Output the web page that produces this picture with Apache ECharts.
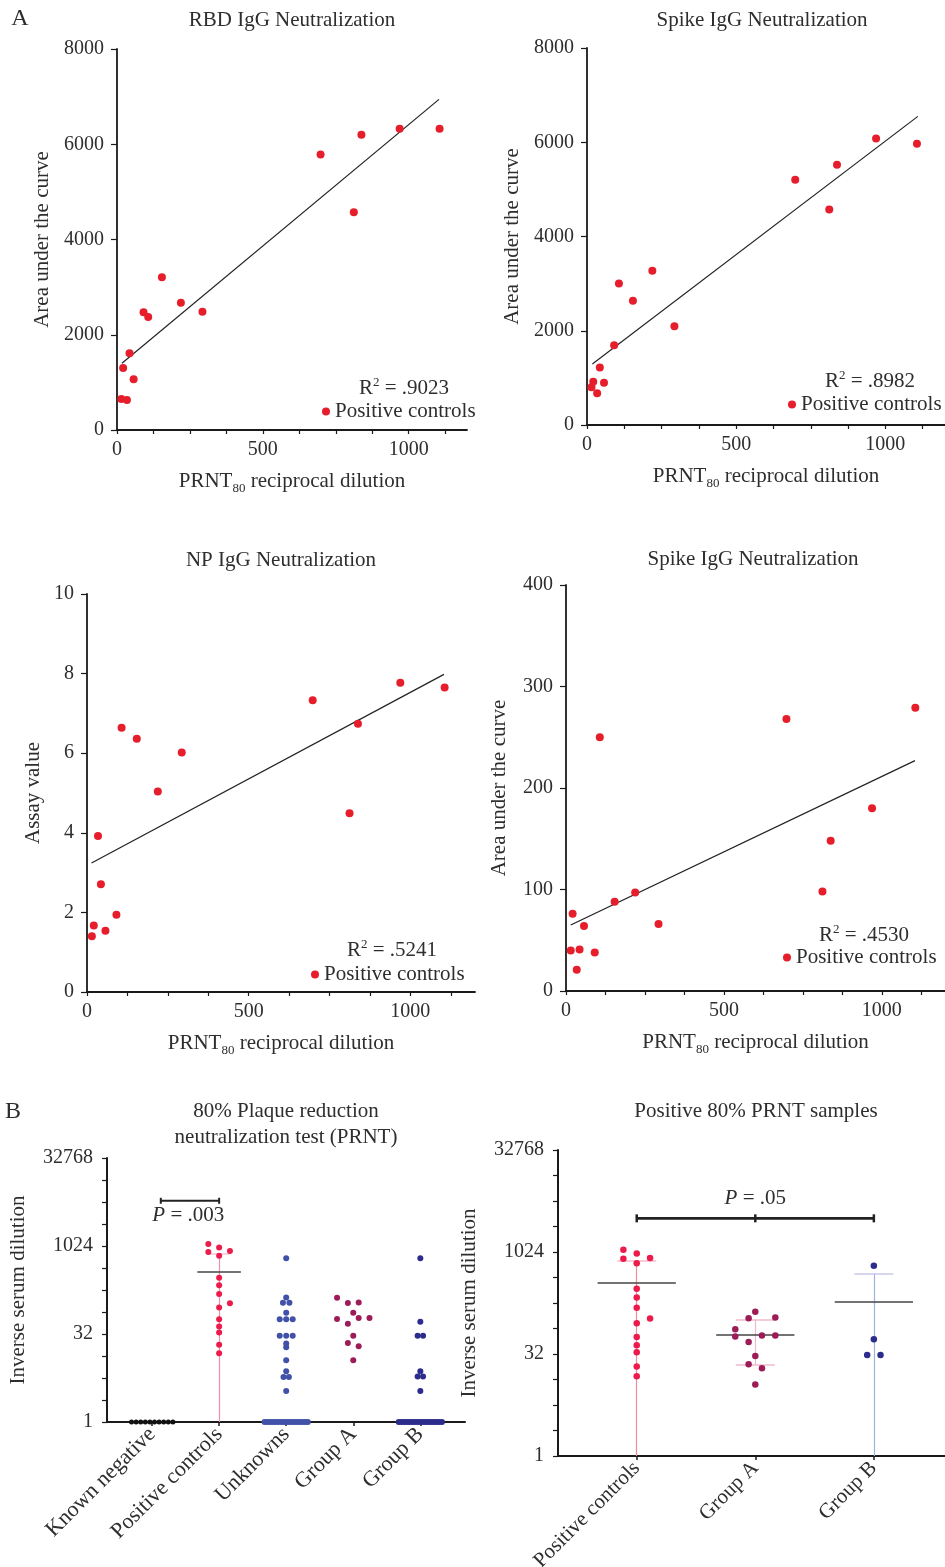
<!DOCTYPE html>
<html>
<head>
<meta charset="utf-8">
<script src="https://cdn.jsdelivr.net/npm/echarts@6/dist/echarts.min.js"></script>
<style>
  html, body { margin: 0; padding: 0; background: #fff; }
  #chart { width: 945px; height: 1567px; }
</style>
</head>
<body>
<div id="chart"></div>
<script>
// ---- panel A: PRNT80 of the 15 positive controls vs. assay readouts
const prntPositive = [15, 21, 34, 43, 57, 91, 107, 154, 219, 293, 698, 812, 838, 969, 1106];
const rbdAuc   = [651, 1302, 630, 1610, 1064, 2470, 2372, 3205, 2673, 2484, 5787, 4570, 6200, 6326, 6326];
const spikeAuc = [800, 920, 673, 1218, 899, 1692, 3002, 2634, 3271, 2096, 5204, 4573, 5522, 6081, 5968];
const npAssay  = [1.40, 1.67, 3.92, 2.71, 1.54, 1.94, 6.64, 6.36, 5.04, 6.02, 7.33, 4.49, 6.74, 7.77, 7.65];
const spike2Auc = [40, 76, 21, 41, 64, 38, 250, 88, 97, 66, 268, 98, 148, 180, 279];

// fitted lines (end points)
const rbdFit    = [[17, 1400], [1104, 6942]];
const spikeFit  = [[18, 1296], [1109, 6549]];
const npFit     = [[14, 3.24], [1104, 7.98]];
const spike2Fit = [[15, 65], [1105, 227]];
const rSquared  = ['.9023', '.8982', '.5241', '.4530'];

const panelTitles = ['RBD IgG Neutralization', 'Spike IgG Neutralization', 'NP IgG Neutralization', 'Spike IgG Neutralization'];
const yNames = ['Area under the curve', 'Area under the curve', 'Assay value', 'Area under the curve'];
const yMax = [8000, 8000, 10, 400];
const yStep = [2000, 2000, 2, 100];
const xTickValues = [0, 125, 250, 375, 500, 625, 750, 875, 1000, 1125];
const xLabelValues = [0, 500, 1000];

// ---- panel B: inverse serum dilutions
const prntCategories = ['Known negative', 'Positive controls', 'Unknowns', 'Group A', 'Group B'];
const positiveCategories = ['Positive controls', 'Group A', 'Group B'];
const yLabelExp = [0, 5, 10, 15]; // 1, 32, 1024, 32768

const knownNegative = [1, 1, 1, 1, 1, 1, 1, 1, 1, 1];
const knownNegativeSlots = [-3.8, -2.95, -2.1, -1.25, -0.4, 0.45, 1.3, 2.15, 3, 3.85];
const positiveSlots = [0, 0, 0, 0, 0, 0, 2, 0, 0, 0, 0, -2, 2, 0, -2];

const unknowns = [630, 135, 110, 110, 74, 57, 57, 57, 30, 30, 30, 22, 19, 11.4, 7.4, 5.9, 5.9, 3.4,
  1, 1, 1, 1, 1, 1, 1, 1, 1, 1, 1, 1, 1, 1, 1, 1, 1];
const unknownsSlots = [0, 0, -0.6, 0.6, 0, -1.2, 0, 1.2, -1.2, 0, 1.2, 0, 0, 0, 0, -0.5, 0.5, 0,
  -4, -3.5, -3, -2.5, -2, -1.5, -1, -0.5, 0, 0.5, 1, 1.5, 2, 2.5, 3, 3.5, 4];

const groupA = [134, 111, 108, 74, 58, 60, 60, 48, 30, 22.5, 19.7, 11.4];
const groupASlotsAll = [-3, 1, -1, 0, -3, 1, 3, -1, 0, -1, 1, 0];
const groupASlotsPos = [0, 3, -1, -3, -3, 1, 3, -1, 0, -1, 1, 0];

const groupBAll = [630, 52, 30, 30, 7.4, 6, 6, 3.4,
  1, 1, 1, 1, 1, 1, 1, 1, 1, 1, 1, 1, 1, 1, 1, 1, 1];
const groupBAllSlots = [0, 0, -0.5, 0.5, 0, -0.5, 0.5, 0,
  -4, -3.5, -3, -2.5, -2, -1.5, -1, -0.5, 0, 0.5, 1, 1.5, 2, 2.5, 3, 3.5, 4];
const groupBPos = [643, 53, 31, 31];
const groupBPosSlots = [0, 0, -1, 1];

// mean and SD limits (linear scale)
const statMean  = [365, 61, 190];
const statUpper = [750, 102, 495];
const statLower = [null, 22.5, null];

const bracketLevel = [6080, 3214];
const pValues = ['.003', '.05'];

// ---- styling
const fontFamily = 'Liberation Serif';
const ink = '#2e2e2e';
const axisInk = '#1a1a1a';
const red = '#e61e2b';
const pink = '#ec1b4b';
const magenta = '#9c1c57';
const blue = '#4151a8';
const navy = '#2b2c8c';

const grids = [
  { left: 117, top: 49, width: 350, height: 381 },
  { left: 587, top: 48, width: 358, height: 377 },
  { left: 87, top: 594, width: 388, height: 398 },
  { left: 566, top: 585, width: 379, height: 406 },
  { left: 107, top: 1158, width: 358, height: 264 },
  { left: 558, top: 1150, width: 387, height: 306 }
];
const yNameGap = [64, 64, 43, 56];

const chart = echarts.init(document.getElementById('chart'));

const lineAxis = (w) => ({ show: true, onZero: false, lineStyle: { color: axisInk, width: w } });
const subRich = { sub: { fontSize: 13, fontFamily, color: ink, verticalAlign: 'bottom' } };
const plain = (v) => String(v);

const xAxes = [], yAxes = [], series = [];

// panel A axes + series
const panelY = [rbdAuc, spikeAuc, npAssay, spike2Auc];
const panelFit = [rbdFit, spikeFit, npFit, spike2Fit];
for (let i = 0; i < 4; i++) {
  xAxes.push({
    gridIndex: i, type: 'value', min: 0, max: 1200,
    name: 'PRNT{sub|80} reciprocal dilution', nameLocation: 'middle', nameGap: 37,
    nameTextStyle: { fontSize: 21, fontFamily, color: ink, lineHeight: 28, rich: subRich },
    axisLine: lineAxis(1.8),
    axisTick: { show: true, length: 4, customValues: xTickValues, lineStyle: { color: axisInk, width: 1.2 } },
    axisLabel: { customValues: xLabelValues, fontSize: 20, fontFamily, color: ink, margin: 10, formatter: plain },
    splitLine: { show: false }
  });
  yAxes.push({
    gridIndex: i, type: 'value', min: 0, max: yMax[i], interval: yStep[i],
    name: yNames[i], nameLocation: 'middle', nameGap: yNameGap[i],
    nameTextStyle: { fontSize: 21, fontFamily, color: ink },
    axisLine: lineAxis(1.8),
    axisTick: { show: true, length: 6, lineStyle: { color: axisInk, width: 1.2 } },
    axisLabel: { fontSize: 20, fontFamily, color: ink, margin: 13, formatter: plain },
    splitLine: { show: false }
  });
  series.push({
    type: 'line', xAxisIndex: i, yAxisIndex: i, data: panelFit[i],
    symbol: 'none', silent: true, z: 2,
    lineStyle: { color: '#222', width: 1.2 }
  });
  series.push({
    type: 'scatter', name: 'Positive controls', xAxisIndex: i, yAxisIndex: i,
    data: prntPositive.map((x, k) => [x, panelY[i][k]]),
    symbolSize: 8, itemStyle: { color: red, opacity: 1 }, z: 3, clip: false
  });
}

// panel B axes
const bAxes = [
  { grid: 4, min: -0.672, max: 4.666, cats: prntCategories, labelSize: 22 },
  { grid: 5, min: -0.664, max: 2.6, cats: positiveCategories, labelSize: 21 }
];
bAxes.forEach((b) => {
  const catIdx = b.cats.map((c, k) => k);
  xAxes.push({
    gridIndex: b.grid, type: 'value', min: b.min, max: b.max,
    axisLine: lineAxis(2),
    axisTick: { show: true, length: 4, customValues: catIdx, lineStyle: { color: axisInk, width: 1.5 } },
    axisLabel: {
      customValues: catIdx, rotate: 45, margin: 9, fontSize: b.labelSize, fontFamily, color: ink,
      formatter: (v) => b.cats[Math.round(v)]
    },
    splitLine: { show: false }
  });
  yAxes.push({
    gridIndex: b.grid, type: 'value', min: 0, max: 15, interval: 1.25,
    name: 'Inverse serum dilution', nameLocation: 'middle', nameGap: 78,
    nameTextStyle: { fontSize: 21, fontFamily, color: ink },
    axisLine: lineAxis(2),
    axisTick: { show: true, length: 5, lineStyle: { color: axisInk, width: 1.2 } },
    axisLabel: {
      customValues: yLabelExp, fontSize: 20, fontFamily, color: ink, margin: 14,
      formatter: (v) => String(Math.round(Math.pow(2, v)))
    },
    splitLine: { show: false }
  });
});

function dots(grid, cat, values, slots, unit, color, size, name) {
  return {
    type: 'scatter', name, xAxisIndex: grid, yAxisIndex: grid, clip: false,
    symbolSize: size, itemStyle: { color, opacity: 1 }, z: 5,
    data: values.map((v, k) => [cat + slots[k] * unit, Math.log2(v)])
  };
}

function stats(grid, cat, k, meanHalf, capHalf, barColor, capColor) {
  const top = Math.log2(statUpper[k]);
  const low = statLower[k];
  const bot = low == null ? 0 : Math.log2(low);
  const m = Math.log2(statMean[k]);
  const d = [
    { coords: [[cat, top], [cat, bot]], lineStyle: { color: barColor, width: 1.2 } },
    { coords: [[cat - capHalf, top], [cat + capHalf, top]], lineStyle: { color: capColor, width: 1.5 } }
  ];
  if (low != null) d.push({ coords: [[cat - capHalf, bot], [cat + capHalf, bot]], lineStyle: { color: capColor, width: 1.5 } });
  d.push({ coords: [[cat - meanHalf, m], [cat + meanHalf, m]], lineStyle: { color: '#444', width: 1.6 } });
  return {
    type: 'lines', coordinateSystem: 'cartesian2d', xAxisIndex: grid, yAxisIndex: grid,
    polyline: false, silent: true, z: 3, data: d, lineStyle: { opacity: 1, curveness: 0 }
  };
}

// panel B, left: all samples
const u5 = 5.4 / 67;
series.push(stats(4, 1, 0, 0.324, 0.16, '#ef8fae', '#f7c3d3'));
series.push(dots(4, 0, knownNegative, knownNegativeSlots, u5, '#111', 5, 'Known negative'));
series.push(dots(4, 1, prntPositive, positiveSlots, u5, pink, 6, 'PRNT positive controls'));
series.push(dots(4, 2, unknowns, unknownsSlots, u5, blue, 6, 'Unknowns'));
series.push(dots(4, 3, groupA, groupASlotsAll, u5, magenta, 6, 'Group A'));
series.push(dots(4, 4, groupBAll, groupBAllSlots, u5, navy, 6, 'Group B'));

// panel B, right: positive samples only
const u6 = 6.67 / 118.5;
series.push(stats(5, 0, 0, 0.33, 0.165, '#ee8c9e', '#f5bccb'));
series.push(stats(5, 1, 1, 0.33, 0.165, '#f0b8cc', '#f0b8cc'));
series.push(stats(5, 2, 2, 0.33, 0.165, '#9fb2da', '#c9c9e8'));
series.push(dots(5, 0, prntPositive, positiveSlots, u6, pink, 6.5, 'PRNT positive controls'));
series.push(dots(5, 1, groupA, groupASlotsPos, u6, magenta, 6.5, 'Group A'));
series.push(dots(5, 2, groupBPos, groupBPosSlots, u6, navy, 6.5, 'Group B'));

// significance brackets
const brackets = [
  { grid: 4, xs: [0.13, 1], mid: 0.54, pos: 'bottom', dist: 4, width: 2, cap: [2, 6] },
  { grid: 5, xs: [0, 1, 2], mid: 1, pos: 'top', dist: 9, width: 2.6, cap: [2.5, 8] }
];
brackets.forEach((b, k) => {
  const y = Math.log2(bracketLevel[k]);
  series.push({
    type: 'line', xAxisIndex: b.grid, yAxisIndex: b.grid, silent: true, z: 4,
    data: b.xs.map((x) => [x, y]),
    symbol: 'rect', symbolSize: b.cap, showSymbol: true, showAllSymbol: true,
    itemStyle: { color: '#222' }, lineStyle: { color: '#222', width: b.width }
  });
  series.push({
    type: 'scatter', xAxisIndex: b.grid, yAxisIndex: b.grid, silent: true, z: 4,
    data: [[b.mid, y]], symbolSize: 1, itemStyle: { color: '#222', opacity: 1 },
    label: {
      show: true, position: b.pos, distance: b.dist, opacity: 1,
      formatter: '{it|P} = ' + pValues[k],
      fontSize: 21, fontFamily, color: ink,
      rich: { it: { fontStyle: 'italic', fontSize: 21, fontFamily, color: ink } }
    }
  });
});

// free text: panel letters, titles, R²
const supRich = { sup: { fontSize: 13, fontFamily, fill: ink, color: ink, verticalAlign: 'top' } };
const texts = [
  { t: 'A', x: 20, y: 19, s: 24 },
  { t: 'B', x: 13, y: 1112, s: 24 },
  { t: panelTitles[0], x: 292, y: 20 },
  { t: panelTitles[1], x: 762, y: 20 },
  { t: panelTitles[2], x: 281, y: 560 },
  { t: panelTitles[3], x: 753, y: 559 },
  { t: '80% Plaque reduction', x: 286, y: 1111 },
  { t: 'neutralization test (PRNT)', x: 286, y: 1137 },
  { t: 'Positive 80% PRNT samples', x: 756, y: 1111 },
  { t: 'R{sup|2} = ' + rSquared[0], x: 404, y: 388 },
  { t: 'R{sup|2} = ' + rSquared[1], x: 870, y: 381 },
  { t: 'R{sup|2} = ' + rSquared[2], x: 392, y: 950 },
  { t: 'R{sup|2} = ' + rSquared[3], x: 864, y: 935 }
];

const legendSpots = [[322, 401], [788, 394], [311, 964], [783, 947]];

chart.setOption({
  animation: false,
  backgroundColor: '#fff',
  textStyle: { fontFamily },
  grid: grids.map((g) => Object.assign({ outerBoundsMode: 'none', containLabel: false }, g)),
  xAxis: xAxes,
  yAxis: yAxes,
  legend: legendSpots.map(([l, t]) => ({
    data: ['Positive controls'], left: l, top: t, padding: 0,
    icon: 'circle', itemWidth: 8, itemHeight: 8, selectedMode: false,
    textStyle: { fontSize: 21, fontFamily, color: ink }
  })),
  graphic: texts.map((o) => ({
    type: 'text', x: o.x, y: o.y, silent: true,
    style: {
      text: o.t, fontSize: o.s || 21, fontFamily, fill: ink, lineHeight: 24,
      align: 'center', verticalAlign: 'middle', rich: supRich
    }
  })),
  series
});

window.addEventListener('resize', () => chart.resize());
</script>
</body>
</html>
